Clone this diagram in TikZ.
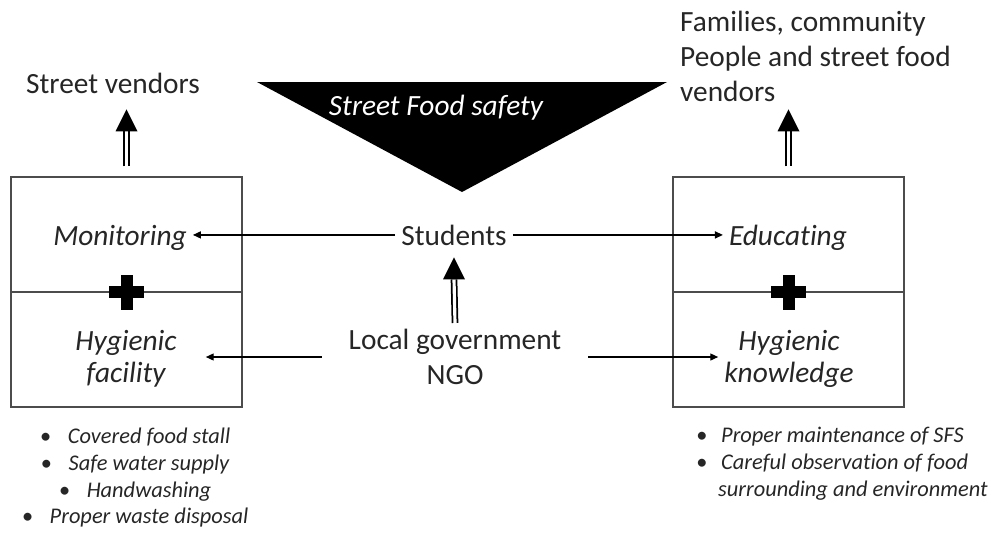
\documentclass[tikz,border=0pt]{standalone}
\usepackage{fontspec}
\setmainfont{Carlito}[Ligatures={NoCommon}]
\usetikzlibrary{arrows.meta,calc}
\def\plussign(#1){\fill[black] ($(#1)+(-17.5,-6)$) rectangle ($(#1)+(17.5,6)$); \fill[black] ($(#1)+(-6,-17.5)$) rectangle ($(#1)+(6,17.5)$);}
\def\dblarrow(#1)(#2){\draw[dblshaft] (#1) -- ($(#2)+(0,22)$); \fill[black] ($(#2)+(-11,22)$) -- (#2) -- ($(#2)+(11,22)$) -- cycle;}
\tikzset{
	panel/.style={draw=black!70, line width=0.7pt, inner sep=0pt, minimum width=4.62cm, minimum height=4.6cm},
	divider/.style={draw=black!70, line width=0.7pt},
	lbl/.style={text=black!85, font=\fontsize{16.7}{20}\selectfont, align=center},
	ilbl/.style={lbl, font=\fontsize{16.7}{18.2}\selectfont\itshape},
	blist/.style={text=black!85, font=\fontsize{12.75}{15.2}\selectfont\itshape},
	arr/.style={draw=black, line width=0.7pt, -{Triangle[length=4.5pt,width=4pt]}},
	dblshaft/.style={draw=black, line width=1pt, double, double distance=1.8pt},
}

\begin{document}
\begin{tikzpicture}[x=0.02cm, y=-0.02cm]
		%%%%% START %%%%%
		\useasboundingbox (0, 0) rectangle (993, 532);
		
		\fill[black] (257, 82) -- (667, 82) -- (462, 192) -- cycle;
		\node[ilbl, text=white, anchor=base] (sfs) at (436, 115) {Street Food safety};
		
		\node[panel] (lbox) at (126.5, 292) {};
		\node[panel] (rbox) at (788.5, 292) {};
		\draw[divider] (lbox.west) -- (lbox.east);
		\draw[divider] (rbox.west) -- (rbox.east);
		\plussign(lbox.center)
		\plussign(rbox.center)
		
		\node[ilbl, anchor=base] (mon) at (120, 245) {Monitoring};
		\node[ilbl, anchor=base] (edu) at (788, 245) {Educating};
		\node[ilbl] (hygf) at (126, 359) {Hygienic\\facility};
		\node[ilbl] (hygk) at (789, 359) {Hygienic\\knowledge};
		
		\node[lbl, anchor=base] (stu) at (454, 245) {Students};
		\node[lbl] (gov) at (455, 357) {Local government\\NGO};
		
		\node[lbl, anchor=base] (sv) at (113, 93) {Street vendors};
		\node[lbl, align=left, anchor=north west] (fam) at (674, 5) {Families, community\\People and street food\\vendors};
		
		\draw[arr] (stu.west) -- (stu.west -| mon.east);
		\draw[arr] (stu.east) -- (stu.east -| edu.west);
		\draw[arr, shorten <=0.42cm, shorten >=0.46cm] (gov.west) -- (gov.west -| hygf.east);
		\draw[arr, shorten <=0.42cm] (gov.east) -- (gov.east -| hygk.west);
		
		\coordinate (lfoot) at ($(lbox.north)+(0,-10)$);
		\coordinate (ltip) at ($(lbox.north)+(0,-67)$);
		\dblarrow(lfoot)(ltip)
		\coordinate (rfoot) at ($(rbox.north)+(0,-10)$);
		\coordinate (rtip) at ($(rbox.north)+(0,-67)$);
		\dblarrow(rfoot)(rtip)
		\coordinate (stutip) at ($(stu.south)+(0,6)$);
		\dblarrow(gov.north)(stutip)
		
		\node[blist, align=center, anchor=north] (lfac) at (135, 422) {\makebox[0.56cm][l]{\textbullet}Covered food stall\\\makebox[0.56cm][l]{\textbullet}Safe water supply\\\makebox[0.56cm][l]{\textbullet}Handwashing\\\makebox[0.56cm][l]{\textbullet}Proper waste disposal};
		\node[blist, align=left, anchor=north west] (rknow) at (690, 421) {\makebox[0.5cm][l]{\textbullet}Proper maintenance of SFS\\\makebox[0.5cm][l]{\textbullet}Careful observation of food\\\hspace{0.44cm}surrounding and environment};
		
		%%%%% END %%%%%
	\end{tikzpicture}
\end{document}
